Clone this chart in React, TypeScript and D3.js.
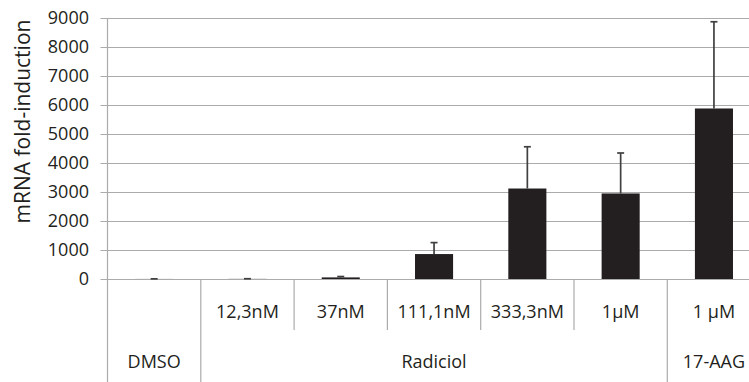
import React, { useRef, useEffect } from "react";
import * as d3 from "d3";

const categories = ["DMSO", "12,3nM", "37nM", "111,1nM", "333,3nM", "1µM", "1 µM"];
const values = [2, 4, 55, 860, 3120, 2950, 5880];
const errors = [3, 5, 30, 395, 1440, 1395, 2990];
const groups = ["DMSO", "Radiciol", "17-AAG"];
const groupSizes = [1, 5, 1];
const yTicks = [0, 1000, 2000, 3000, 4000, 5000, 6000, 7000, 8000, 9000];

const FONT = "'Open Sans', sans-serif";
const TEXT = "#231f20";

const Chart: React.FC<{ width?: number; height?: number }> = ({ width = 749, height = 382 }) => {
  const svgRef = useRef<SVGSVGElement | null>(null);

  useEffect(() => {
    if (!svgRef.current) return;
    const svg = d3.select(svgRef.current);
    svg.selectAll("*").remove();

    const left = 107.5;
    const step = 93.3;
    const right = left + categories.length * step;
    const top = 18;
    const bottom = 279;

    const x = d3
      .scaleBand()
      .domain(categories)
      .range([left, right])
      .paddingInner(0.592)
      .paddingOuter(0.296);

    const y = d3.scaleLinear().domain([0, 9000]).range([bottom, top]);

    const cellLeft = (c: string) => x(c)! - (x.step() * 0.592) / 2;

    // gridlines + ticks
    svg
      .append("g")
      .selectAll("line")
      .data(yTicks)
      .join("line")
      .attr("x1", left - 7)
      .attr("x2", width + 20)
      .attr("y1", (d) => Math.round(y(d)) + 0.5)
      .attr("y2", (d) => Math.round(y(d)) + 0.5)
      .attr("stroke", "#ababab")
      .attr("stroke-width", 1.2);

    svg
      .append("g")
      .selectAll("text")
      .data(yTicks)
      .join("text")
      .attr("x", 89)
      .attr("y", (d) => y(d))
      .attr("dy", "0.35em")
      .attr("text-anchor", "end")
      .attr("font-family", FONT)
      .attr("font-size", 18)
      .attr("fill", TEXT)
      .text((d) => String(d));

    // left axis line
    svg
      .append("line")
      .attr("x1", left)
      .attr("x2", left)
      .attr("y1", top)
      .attr("y2", height + 5)
      .attr("stroke", "#ababab")
      .attr("stroke-width", 1.2);

    // group boundaries
    const starts: number[] = [];
    let acc = 0;
    groupSizes.forEach((n) => {
      starts.push(acc);
      acc += n;
    });

    const groupEdges = new Set<number>(starts.concat([acc]));

    // category separators
    svg
      .append("g")
      .selectAll("line")
      .data(d3.range(1, categories.length + 1))
      .join("line")
      .attr("x1", (i) => (i < categories.length ? cellLeft(categories[i]) : right))
      .attr("x2", (i) => (i < categories.length ? cellLeft(categories[i]) : right))
      .attr("y1", bottom)
      .attr("y2", (i) => (groupEdges.has(i) ? height + 5 : 330))
      .attr("stroke", "#ababab")
      .attr("stroke-width", 1.2);

    // bars
    svg
      .append("g")
      .selectAll("rect")
      .data(values)
      .join("rect")
      .attr("x", (_, i) => x(categories[i])!)
      .attr("y", (d) => y(d))
      .attr("width", x.bandwidth())
      .attr("height", (d) => bottom - y(d))
      .attr("fill", "#231f20");

    // error bars
    const eb = svg.append("g").attr("stroke", "#404040").attr("stroke-width", 1.7);
    values.forEach((v, i) => {
      const cx = x(categories[i])! + x.bandwidth() / 2;
      eb.append("line")
        .attr("x1", cx)
        .attr("x2", cx)
        .attr("y1", y(v))
        .attr("y2", y(v + errors[i]));
      eb.append("line")
        .attr("x1", cx - 3.5)
        .attr("x2", cx + 3.5)
        .attr("y1", y(v + errors[i]))
        .attr("y2", y(v + errors[i]));
    });

    // category labels
    svg
      .append("g")
      .selectAll("text")
      .data(categories.slice(1))
      .join("text")
      .attr("x", (c) => x(c)! + x.bandwidth() / 2)
      .attr("y", 312)
      .attr("dy", "0.35em")
      .attr("text-anchor", "middle")
      .attr("font-family", FONT)
      .attr("font-size", 18)
      .attr("fill", TEXT)
      .text((c) => c);

    // group labels
    svg
      .append("g")
      .selectAll("text")
      .data(groups)
      .join("text")
      .attr("x", (_, gi) => {
        const a = cellLeft(categories[starts[gi]]);
        const endIdx = starts[gi] + groupSizes[gi];
        const b = endIdx < categories.length ? cellLeft(categories[endIdx]) : right;
        return (a + b) / 2;
      })
      .attr("y", 362)
      .attr("dy", "0.35em")
      .attr("text-anchor", "middle")
      .attr("font-family", FONT)
      .attr("font-size", 18)
      .attr("fill", TEXT)
      .text((g) => g);

    // y-axis title
    svg
      .append("text")
      .attr("transform", `translate(23,${(top + bottom) / 2 - 27}) rotate(-90)`)
      .attr("dy", "0.35em")
      .attr("text-anchor", "middle")
      .attr("font-family", FONT)
      .attr("font-size", 21)
      .attr("fill", TEXT)
      .text("mRNA fold-induction");
  }, [width, height]);

  return (
    <svg
      ref={svgRef}
      width={width}
      height={height}
      style={{ position: "absolute", left: 0, top: 0, background: "#fff", display: "block" }}
    ></svg>
  );
};

export default function App() {
  return <Chart />;
}
